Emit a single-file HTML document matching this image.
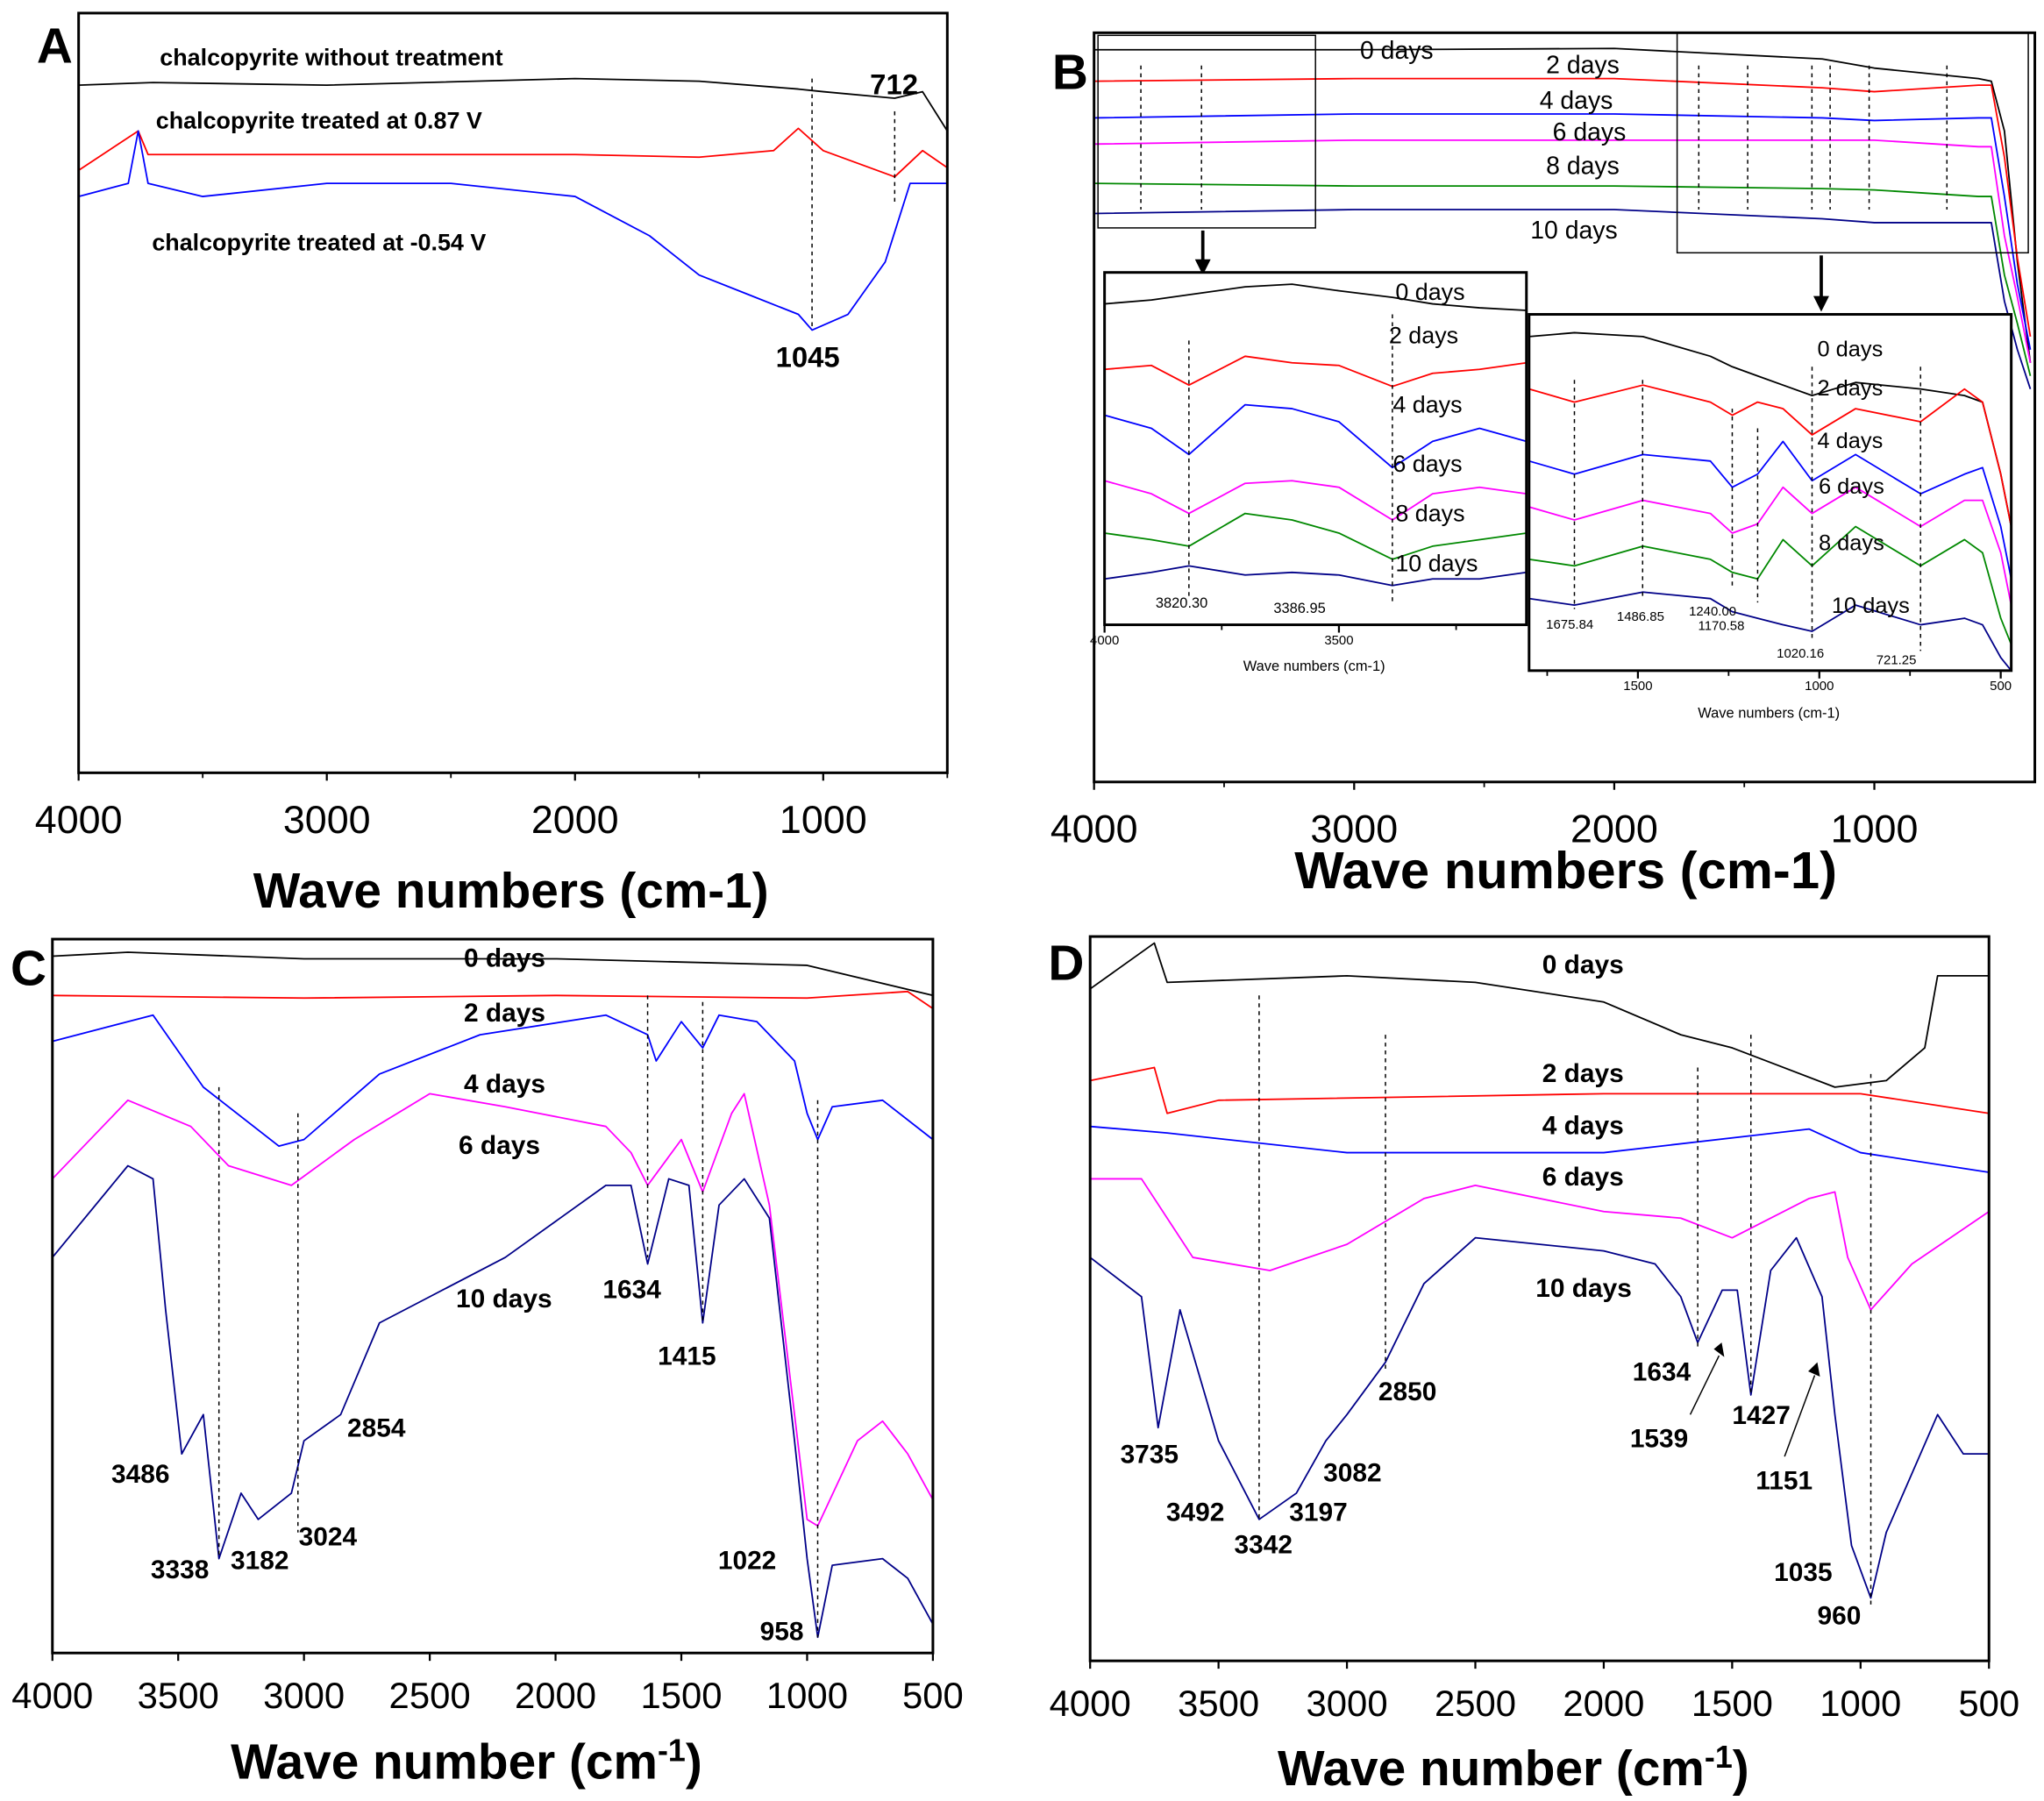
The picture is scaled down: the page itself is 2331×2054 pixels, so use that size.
<!DOCTYPE html>
<html><head><meta charset="utf-8"><style>
html,body{margin:0;padding:0;background:#fff}
svg{display:block}
text{font-family:"Liberation Sans",sans-serif}
</style></head><body>
<svg id="fig" width="2331" height="2054" viewBox="0 0 1560 1375" preserveAspectRatio="none" xmlns="http://www.w3.org/2000/svg"></svg>
<script>
// ---------- DATA (wavenumber, relative intensity above panel baseline) ----------
const aWave_black=[4000,3700,3000,2000,1500,1100,1000,712,600,500];
const aVal_black=[525,527,525,530,528,522,520,515,520,490];
const aWave_red=[4000,3760,3720,3000,2000,1500,1200,1100,1000,712,600,500];
const aVal_red=[460,490,472,472,472,470,475,492,475,455,475,462];
const aWave_blue=[4000,3800,3760,3720,3500,3000,2500,2000,1700,1500,1300,1100,1045,900,750,650,600,500];
const aVal_blue=[440,450,490,450,440,450,450,440,410,380,365,350,338,350,390,450,450,450];

const bWave=[4000,3000,2000,1200,1000,600,550,500,450,400];
const bVal_0=[559,559,560,552,545,537,535,497,397,320];
const bVal_2=[535,537,537,530,527,532,532,477,400,340];
const bVal_4=[507,510,510,507,505,507,507,447,380,330];
const bVal_6=[487,490,490,490,490,485,485,417,370,320];
const bVal_8=[457,455,455,453,452,447,447,387,350,310];
const bVal_10=[434,437,437,430,427,427,427,367,330,300];

const b1Wave=[4000,3900,3820,3700,3600,3500,3386,3300,3200,3100];
const b1Val_0=[245,248,252,258,260,255,250,245,242,240];
const b1Val_2=[195,198,183,205,200,198,182,192,195,200];
const b1Val_4=[160,150,130,168,165,155,120,140,150,140];
const b1Val_6=[110,100,85,108,110,105,80,100,105,100];
const b1Val_8=[70,65,60,85,80,70,50,60,65,70];
const b1Val_10=[35,40,45,38,40,38,30,35,35,40];

const b2Wave=[1800,1675,1486,1300,1240,1170,1100,1020,900,721,600,550,500,471];
const b2Val_0=[255,258,255,240,232,225,218,210,220,215,210,205,150,110];
const b2Val_2=[215,205,218,205,195,205,200,180,200,190,215,205,150,110];
const b2Val_4=[160,150,165,160,140,150,175,145,165,135,150,155,110,70];
const b2Val_6=[125,115,130,120,105,112,140,120,140,110,130,130,90,50];
const b2Val_8=[85,80,95,85,75,70,100,80,110,80,100,90,40,20];
const b2Val_10=[55,50,60,55,45,40,35,30,50,35,40,35,10,0];

const cWave_0=[4000,3700,3000,2000,1000,500];
const cVal_0=[532,535,530,530,525,502];
const cWave_2=[4000,3000,2000,1000,600,500];
const cVal_2=[502,500,502,500,505,492];
const cWave_4=[4000,3600,3400,3100,3000,2700,2300,1800,1634,1600,1500,1415,1350,1200,1050,1000,958,900,700,500];
const cVal_4=[467,487,432,387,392,442,472,487,472,452,482,462,487,482,452,412,392,417,422,392];
const cWave_6=[4000,3700,3450,3300,3050,2800,2500,2200,1800,1700,1634,1500,1415,1300,1250,1150,1050,1000,958,800,700,600,500];
const cVal_6=[362,422,402,372,357,392,427,417,402,382,357,392,352,412,427,342,182,102,97,162,177,152,117];
const cWave_10=[4000,3700,3600,3550,3486,3400,3338,3250,3182,3050,3000,2854,2700,2500,2200,1800,1700,1634,1550,1470,1415,1350,1250,1150,1050,1000,958,900,700,600,500];
const cVal_10=[302,372,362,262,152,182,72,122,102,122,162,182,252,272,302,357,357,297,362,357,252,342,362,332,162,72,12,67,72,57,22];

const dWave_0=[4000,3750,3700,3000,2500,2000,1700,1500,1300,1100,900,750,700,600,500];
const dVal_0=[513,548,518,523,518,503,478,468,453,438,443,468,523,523,523];
const dWave_2=[4000,3750,3700,3500,2000,1000,500];
const dVal_2=[443,453,418,428,433,433,418];
const dWave_4=[4000,3700,3000,2000,1200,1000,500];
const dVal_4=[408,403,388,388,406,388,373];
const dWave_6=[4000,3800,3600,3300,3000,2700,2500,2000,1700,1500,1200,1100,1050,960,800,500];
const dVal_6=[368,368,308,298,318,353,363,343,338,323,353,358,308,268,303,343];
const dWave_10=[4000,3800,3735,3650,3500,3342,3197,3082,3000,2850,2700,2500,2000,1800,1700,1634,1539,1480,1427,1350,1250,1150,1100,1035,960,900,700,600,500];
const dVal_10=[308,278,178,268,168,108,128,168,188,228,288,323,313,303,278,243,283,283,203,298,323,278,188,88,48,98,188,158,158];

const ticks7=[4000,3500,3000,2500,2000,1500,1000,500];
const ticks4=[4000,3000,2000,1000];

// ---------- helpers ----------
const NS="http://www.w3.org/2000/svg";
const svg=document.getElementById('fig');
function mk(tag,attrs,parent){const e=document.createElementNS(NS,tag);for(const k in attrs)e.setAttribute(k,attrs[k]);(parent||svg).appendChild(e);return e;}
function panel(x0,x1,y0,y1,w0,w1,vmax){
  return {x0,x1,y0,y1,
    sx:w=>x0+(w0-w)/(w0-w1)*(x1-x0),
    sy:v=>y1-v/vmax*(y1-y0)};
}
function line(p,ws,vs,color,name){
  let d='';ws.forEach((w,i)=>{d+=(i?'L':'M')+p.sx(w).toFixed(1)+','+p.sy(vs[i]).toFixed(1);});
  const e=mk('path',{d,fill:'none',stroke:color,'stroke-width':1.2,'stroke-linejoin':'round'});
  
  
}
function box(p,name){const e=mk('rect',{x:p.x0,y:p.y0,width:p.x1-p.x0,height:p.y1-p.y0,fill:'none',stroke:'#000','stroke-width':2});
  }
function txt(x,y,s,size,weight,anchor,name){const e=mk('text',{x,y,'font-size':size,'font-weight':weight||'normal','text-anchor':anchor||'start'});e.textContent=s;
  return e;}
function xticks(p,ticks,size,dy,name,minor){
  ticks.forEach(t=>{const x=p.sx(t);mk('line',{x1:x,x2:x,y1:p.y1,y2:p.y1+6,stroke:'#000','stroke-width':1.5});
    txt(x,p.y1+dy,String(t),size,'normal','middle',name+'-'+t);});
  (minor||[]).forEach(t=>{const x=p.sx(t);mk('line',{x1:x,x2:x,y1:p.y1,y2:p.y1+4,stroke:'#000','stroke-width':1.2});});
}
function vdash(p,w,ya,yb){const x=p.sx(w);mk('line',{x1:x,x2:x,y1:ya,y2:yb,stroke:'#000','stroke-width':1,'stroke-dasharray':'3,3'});}
function supTitle(x,y,name){
  const e=mk('text',{x,y,'font-size':38,'font-weight':'bold','text-anchor':'middle'});
  
  const t1=mk('tspan',{},e);t1.textContent='Wave number (cm';
  const t2=mk('tspan',{'baseline-shift':'super','font-size':24},e);t2.textContent='-1';
  const t3=mk('tspan',{},e);t3.textContent=')';
}

// ---------- Panel A ----------
const pA=panel(60,723,10,590,4000,500,580);
line(pA,aWave_black,aVal_black,'#000','series-untreated');
line(pA,aWave_red,aVal_red,'#f00','series-087v');
line(pA,aWave_blue,aVal_blue,'#00f','series-054v');
vdash(pA,1045,60,250);vdash(pA,712,85,155);
box(pA,'panel-a-frame');
xticks(pA,ticks4,30,46,'panel-a-xtick',[3500,2500,1500,500]);
txt(390,693,'Wave numbers (cm-1)',38,'bold','middle','panel-a-x-title');
txt(28,48,'A',38,'bold','start','panel-a-label');
txt(122,50,'chalcopyrite without treatment',18,'bold','start','label-untreated');
txt(119,98,'chalcopyrite treated at 0.87 V',18,'bold','start','label-087v');
txt(116,191,'chalcopyrite treated at -0.54 V',18,'bold','start','label-054v');
txt(664,72,'712',22,'bold','start','peak-712');
txt(592,280,'1045',22,'bold','start','peak-1045');

// ---------- Panel B ----------
const pB=panel(835,1553,25,597,4000,383,572);
line(pB,bWave,bVal_0,'#000','b-0days');line(pB,bWave,bVal_2,'#f00','b-2days');
line(pB,bWave,bVal_4,'#00f','b-4days');line(pB,bWave,bVal_6,'#f0f','b-6days');
line(pB,bWave,bVal_8,'#080','b-8days');line(pB,bWave,bVal_10,'#008','b-10days');
box(pB,'panel-b-frame');
xticks(pB,ticks4,30,46,'panel-b-xtick',[3500,2500,1500]);
txt(1195,678,'Wave numbers (cm-1)',40,'bold','middle','panel-b-x-title');
txt(803,68,'B',38,'bold','start','panel-b-label');
[['0 days',1038,45],['2 days',1180,56],['4 days',1175,83],['6 days',1185,107],['8 days',1180,133],['10 days',1168,182]].forEach(a=>txt(a[1],a[2],a[0],19,'normal','start','b-label-'+a[0].replace(' ','')));
[3820,3587,1675,1487,1240,1170,1020,721].forEach((w,i)=>vdash(pB,w,50,160));
mk('rect',{x:838,y:27,width:166,height:147,fill:'none',stroke:'#000','stroke-width':1});
mk('rect',{x:1280,y:25,width:268,height:168,fill:'none',stroke:'#000','stroke-width':1});
mk('line',{x1:918,x2:918,y1:176,y2:200,stroke:'#000','stroke-width':2.5});
mk('path',{d:'M912,198 L924,198 L918,210 Z',fill:'#000'});
mk('line',{x1:1390,x2:1390,y1:195,y2:228,stroke:'#000','stroke-width':2.5});
mk('path',{d:'M1384,226 L1396,226 L1390,238 Z',fill:'#000'});

// inset 1
const pI1=panel(843,1165,208,477,4000,3100,269);
mk('rect',{x:843,y:208,width:322,height:269,fill:'#fff',stroke:'none'});
line(pI1,b1Wave,b1Val_0,'#000','i1-0days');line(pI1,b1Wave,b1Val_2,'#f00','i1-2days');
line(pI1,b1Wave,b1Val_4,'#00f','i1-4days');line(pI1,b1Wave,b1Val_6,'#f0f','i1-6days');
line(pI1,b1Wave,b1Val_8,'#080','i1-8days');line(pI1,b1Wave,b1Val_10,'#008','i1-10days');
vdash(pI1,3820,260,455);vdash(pI1,3386,240,460);
box(pI1,'inset-1-frame');
xticks(pI1,[4000,3500],10,15,'inset1-xtick',[3750,3250]);
txt(1003,512,'Wave numbers (cm-1)',11,'normal','middle','inset1-x-title');
txt(882,464,'3820.30',11,'normal','start','i1-peak-3820');txt(972,468,'3386.95',11,'normal','start','i1-peak-3386');
[['0 days',1065,229],['2 days',1060,262],['4 days',1063,315],['6 days',1063,360],['8 days',1065,398],['10 days',1065,436]].forEach(a=>txt(a[1],a[2],a[0],18,'normal','start','i1-label-'+a[0].replace(' ','')));

// inset 2
const pI2=panel(1167,1535,240,512,1800,471,272);
mk('rect',{x:1167,y:240,width:368,height:272,fill:'#fff',stroke:'none'});
line(pI2,b2Wave,b2Val_0,'#000','i2-0days');line(pI2,b2Wave,b2Val_2,'#f00','i2-2days');
line(pI2,b2Wave,b2Val_4,'#00f','i2-4days');line(pI2,b2Wave,b2Val_6,'#f0f','i2-6days');
line(pI2,b2Wave,b2Val_8,'#080','i2-8days');line(pI2,b2Wave,b2Val_10,'#008','i2-10days');
[[1675,290,465],[1487,290,455],[1240,312,450],[1170,327,460],[1020,280,490],[721,280,497]].forEach(a=>vdash(pI2,a[0],a[1],a[2]));
box(pI2,'inset-2-frame');
xticks(pI2,[1500,1000,500],10,15,'inset2-xtick',[1750,1250,750]);
txt(1350,548,'Wave numbers (cm-1)',11,'normal','middle','inset2-x-title');
[['1675.84',1180,480],['1486.85',1234,474],['1240.00',1289,470],['1170.58',1296,481],['1020.16',1356,502],['721.25',1432,507]].forEach(a=>txt(a[1],a[2],a[0],10,'normal','start','i2-peak-'+a[0]));
[['0 days',1387,272],['2 days',1387,302],['4 days',1387,342],['6 days',1388,377],['8 days',1388,420],['10 days',1398,468]].forEach(a=>txt(a[1],a[2],a[0],17,'normal','start','i2-label-'+a[0].replace(' ','')));

// ---------- Panel C ----------
const pC=panel(40,712,717,1262,4000,500,545);
line(pC,cWave_0,cVal_0,'#000','c-0days');line(pC,cWave_2,cVal_2,'#f00','c-2days');
line(pC,cWave_4,cVal_4,'#00f','c-4days');line(pC,cWave_6,cVal_6,'#f0f','c-6days');
line(pC,cWave_10,cVal_10,'#008','c-10days');
[[3338,830,1190],[3024,850,1170],[1634,760,960],[1415,765,1010],[958,840,1250]].forEach(a=>vdash(pC,a[0],a[1],a[2]));
box(pC,'panel-c-frame');
xticks(pC,ticks7,28,42,'panel-c-xtick');
supTitle(356,1358,'panel-c-x-title');
txt(8,752,'C',38,'bold','start','panel-c-label');
[['0 days',354,738],['2 days',354,780],['4 days',354,834],['6 days',350,881],['10 days',348,998],['1634',460,991],['1415',502,1042],['2854',265,1097],['3486',85,1132],['3338',115,1205],['3182',176,1198],['3024',228,1180],['1022',548,1198],['958',580,1252]].forEach(a=>txt(a[1],a[2],a[0],20,'bold','start','c-label-'+a[0].replace(' ','')));

// ---------- Panel D ----------
const pD=panel(832,1518,715,1268,4000,500,553);
line(pD,dWave_0,dVal_0,'#000','d-0days');line(pD,dWave_2,dVal_2,'#f00','d-2days');
line(pD,dWave_4,dVal_4,'#00f','d-4days');line(pD,dWave_6,dVal_6,'#f0f','d-6days');
line(pD,dWave_10,dVal_10,'#008','d-10days');
[[3342,760,1160],[2850,790,1045],[1634,815,1030],[1427,790,1065],[960,820,1225]].forEach(a=>vdash(pD,a[0],a[1],a[2]));
box(pD,'panel-d-frame');
xticks(pD,ticks7,28,42,'panel-d-xtick');
supTitle(1155,1363,'panel-d-x-title');
txt(800,748,'D',38,'bold','start','panel-d-label');
[['0 days',1177,743],['2 days',1177,826],['4 days',1177,866],['6 days',1177,905],['10 days',1172,990],['2850',1052,1069],['1634',1246,1054],['1539',1244,1105],['1427',1322,1087],['1151',1340,1137],['3735',855,1117],['3492',890,1161],['3342',942,1186],['3197',984,1161],['3082',1010,1131],['1035',1354,1207],['960',1387,1240]].forEach(a=>txt(a[1],a[2],a[0],20,'bold','start','d-label-'+a[0].replace(' ','')));
mk('line',{x1:1290,y1:1080,x2:1312,y2:1035,stroke:'#000','stroke-width':1});
mk('path',{d:'M1308,1030 L1316,1036 L1314,1025 Z',fill:'#000'});
mk('line',{x1:1362,y1:1112,x2:1385,y2:1050,stroke:'#000','stroke-width':1});
mk('path',{d:'M1380,1047 L1389,1051 L1387,1040 Z',fill:'#000'});
</script>
</body></html>
